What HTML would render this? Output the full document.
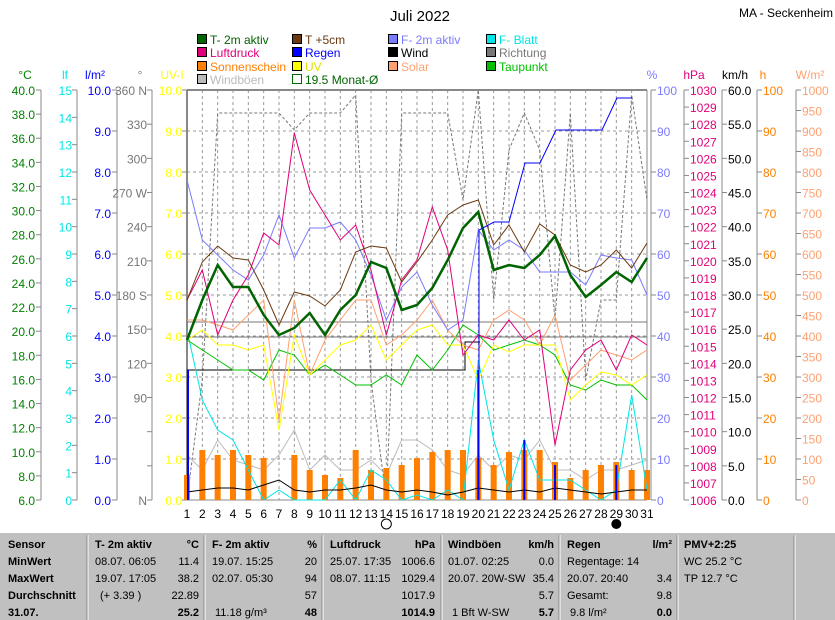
<!DOCTYPE html>
<html><head><meta charset="utf-8"><style>
html,body{margin:0;padding:0;background:#fff;width:835px;height:620px;overflow:hidden}
svg{display:block;font-family:"Liberation Sans",sans-serif;font-size:12px}
</style></head><body>
<svg id="s" width="835" height="620" xmlns="http://www.w3.org/2000/svg"></svg>
<script>
const S=document.getElementById('s');let h='';
const X=d=>187+(d-1)*15.333;
function t(x,y,s,c,a,extra){h+=`<text x="${x}" y="${y}" fill="${c||'#000'}" text-anchor="${a||'start'}" ${extra||''}>${s}</text>`;}
function l(x1,y1,x2,y2,c,w,da){h+=`<line x1="${x1}" y1="${y1}" x2="${x2}" y2="${y2}" stroke="${c}" stroke-width="${w||1}" ${da?`stroke-dasharray="${da}"`:''}/>`;}
function pl(ys,c,w,da){h+=`<polyline fill="none" stroke="${c}" stroke-width="${w||1}" ${da?`stroke-dasharray="${da}"`:''} points="${ys.map((y,i)=>X(i+1).toFixed(1)+','+y).join(' ')}"/>`;}
t(420,21,'Juli 2022','#000','middle','font-size="15"');
t(833,17,'MA - Seckenheim','#000','end');
const lg=[[197,44,'#006400','T- 2m aktiv'],[292,44,'#6b3a10','T +5cm'],[388,44,'#7b7bff','F- 2m aktiv'],[486,44,'#00e5e5','F- Blatt'],
[197,57,'#e0007a','Luftdruck'],[292,57,'#0000ff','Regen'],[388,57,'#000','Wind'],[486,57,'#777','Richtung'],
[197,71,'#ff8000','Sonnenschein'],[292,71,'#ffff00','UV'],[388,71,'#ffa070','Solar'],[486,71,'#00c000','Taupunkt'],
[197,84,'#bbb','Windböen']];
lg.forEach(a=>{h+=`<rect x="${a[0]+0.5}" y="${a[1]-9.5}" width="9" height="9" fill="${a[2]}" stroke="#000"/>`;t(a[0]+13,a[1],a[3],a[2]==='#ffff00'?'#e0e000':a[2]);});
h+=`<rect x="292.5" y="74.5" width="9" height="9" fill="none" stroke="#006400"/>`;t(305,84,'19.5 Monat-Ø','#006400');
t(25,79,'°C','#008000','middle');t(65,79,'lf','#00e5e5','middle');t(95,79,'l/m²','#0000ff','middle');t(140,79,'°','#777','middle');t(172,79,'UV-I','#ffff00','middle');
t(652,79,'%','#7b7bff','middle');t(694,79,'hPa','#e0007a','middle');t(735,79,'km/h','#000','middle');t(763,79,'h','#ff8000','middle');t(810,79,'W/m²','#ffa070','middle');
const T=90,B=500;
for(let d=1;d<=31;d++){l(X(d),T,X(d),B,'#999',1,'3,3');t(X(d),518,d,'#000','middle');}
for(let i=1;i<10;i++){l(187,T+i*41,647,T+i*41,'#999',1,'3,3');}
l(187,T,647,T,'#888',2);l(187,T,187,B,'#888',2);l(647,T,647,B,'#888',1);l(187,B,647,B,'#888',1);
function axis(xl,n,fmt,col,lx){l(xl,T,xl,B,'#888');for(let i=0;i<=n;i++){const y=T+i*410/n;l(xl-5,y,xl,y,'#888');const s=fmt(i);if(s!==null)t(lx,y+5,s,col,'end');}}
axis(41,17,i=>(40-2*i).toFixed(1),'#008000',35);
axis(77,15,i=>15-i,'#00e5e5',72);
axis(117,10,i=>(10-i).toFixed(1),'#0000ff',111);
const dl={360:'360 N',270:'270 W',180:'180 S',0:'N',60:null,30:null};
axis(152,12,i=>{const v=360-30*i;return dl[v]!==undefined?dl[v]:''+v},'#777',147);
axis(187,10,i=>(10-i).toFixed(1),'#ffff00',182);
function raxis(xl,n,fmt,col){l(xl,T,xl,B,'#888');for(let i=0;i<=n;i++){const y=T+i*410/n;l(xl,y,xl+5,y,'#888');t(xl+6,y+5,fmt(i),col);}}
raxis(651,10,i=>100-10*i,'#7b7bff');
raxis(684,24,i=>1030-i,'#e0007a');
raxis(722,12,i=>(60-5*i).toFixed(1),'#000');
raxis(757,10,i=>100-10*i,'#ff8000');
raxis(796,20,i=>1000-50*i,'#ffa070');
pl([500,380,113,113,113,113,113,130,113,113,113,95,380,500,113,113,113,113,200,90,300,150,113,150,320,113,380,300,300,95,200],'#777',1,'3,2');
pl([455,470,440,460,465,470,455,430,470,455,470,470,460,475,440,440,450,470,475,455,470,455,460,440,470,470,480,470,470,465,460],'#bbb');
const sun=[475,450,455,450,455,458,500,455,470,475,478,450,470,468,465,458,452,450,450,458,465,452,450,450,462,478,470,465,462,470,470];
sun.forEach((y,i)=>{h+=`<rect x="${X(i+1)-3}" y="${y}" width="6" height="${B-y}" fill="#ff8000"/>`;});
l(187,322,647,322,'#777');l(187,337,647,337,'#777');
h+=`<polyline fill="none" stroke="#000" points="187,370 465,370 465,342 480,342"/>`;
pl([330,400,430,440,470,500,490,500,500,500,480,500,470,480,500,495,500,490,500,360,440,490,440,480,480,480,490,500,490,395,490],'#00e5e5');
pl([340,350,360,370,370,380,350,355,375,365,375,385,385,375,385,355,370,350,325,335,350,345,340,345,355,385,390,380,385,385,400],'#00c000');
pl([320,320,325,330,315,300,420,300,375,340,320,300,300,345,335,320,300,330,345,350,320,310,320,345,315,380,365,350,355,360,350],'#ffa070');
pl([340,330,345,345,350,345,430,335,375,360,345,340,325,360,345,330,325,345,345,380,345,352,345,345,345,400,385,372,375,385,375],'#ffff00');
pl([492,490,488,488,490,485,480,490,492,490,490,488,485,490,492,490,492,495,492,488,490,492,490,492,488,490,492,494,492,490,490],'#000');
pl([180,240,255,270,280,255,215,258,228,228,222,240,275,320,287,272,305,330,320,230,250,240,250,272,272,272,285,255,258,260,295],'#7b7bff');
pl([300,270,335,300,275,233,245,133,190,215,240,225,270,335,280,260,207,250,355,335,340,320,340,330,445,370,350,340,370,335,345],'#e0007a');
pl([300,262,246,258,260,290,325,292,296,306,290,252,246,248,282,262,240,215,205,200,245,225,252,224,235,265,272,265,250,268,243],'#6b3a10');
pl([340,300,265,287,287,315,335,328,313,335,310,295,262,268,310,305,288,260,228,212,270,265,268,255,236,275,297,285,272,282,258],'#006400',2.5);
l(188,370,188,500,'#0000ff',2);
[[20,370],[23,440],[25,465],[29,465]].forEach(a=>l(X(a[0]),a[1],X(a[0]),500,'#0000ff',2));
h+=`<polyline fill="none" stroke="#0000ff" stroke-width="1" points="479,500 479,230 494,222 509,222 525,163 540,163 556,130 602,130 617,98 632,98"/>`;
h+=`<circle cx="${X(14)}" cy="524" r="5" fill="#fff" stroke="#000"/><circle cx="${X(29)}" cy="524" r="5" fill="#000"/>`;
h+=`<rect x="0" y="533" width="835" height="87" fill="#c0c0c0"/>`;
[88,205,323,442,560,678,795].forEach(x=>{l(x,535,x,620,'#fff',1);l(x-1,535,x-1,620,'#888',1);});
h+='<g font-size="11">';
const R=[548,565,582,599,616];
const B_=(x,y,s,a)=>t(x,y,s,'#000',a,'font-weight="bold"');
['Sensor','MinWert','MaxWert','Durchschnitt','31.07.'].forEach((s,i)=>B_(8,R[i],s));
B_(95,R[0],'T- 2m aktiv');B_(199,R[0],'°C','end');
t(95,R[1],'08.07.  06:05');t(199,R[1],'11.4','#000','end');
t(95,R[2],'19.07.  17:05');t(199,R[2],'38.2','#000','end');
t(100,R[3],'(+ 3.39 )');t(199,R[3],'22.89','#000','end');B_(199,R[4],'25.2','end');
B_(212,R[0],'F- 2m aktiv');B_(317,R[0],'%','end');
t(212,R[1],'19.07.  15:25');t(317,R[1],'20','#000','end');
t(212,R[2],'02.07.  05:30');t(317,R[2],'94','#000','end');
t(317,R[3],'57','#000','end');t(215,R[4],'11.18 g/m³');B_(317,R[4],'48','end');
B_(330,R[0],'Luftdruck');B_(435,R[0],'hPa','end');
t(330,R[1],'25.07.  17:35');t(435,R[1],'1006.6','#000','end');
t(330,R[2],'08.07.  11:15');t(435,R[2],'1029.4','#000','end');
t(435,R[3],'1017.9','#000','end');B_(435,R[4],'1014.9','end');
B_(448,R[0],'Windböen');B_(554,R[0],'km/h','end');
t(448,R[1],'01.07.  02:25');t(554,R[1],'0.0','#000','end');
t(448,R[2],'20.07.  20W-SW');t(554,R[2],'35.4','#000','end');
t(554,R[3],'5.7','#000','end');t(452,R[4],'1 Bft W-SW');B_(554,R[4],'5.7','end');
B_(567,R[0],'Regen');B_(672,R[0],'l/m²','end');
t(567,R[1],'Regentage: 14');
t(567,R[2],'20.07.  20:40');t(672,R[2],'3.4','#000','end');
t(567,R[3],'Gesamt:');t(672,R[3],'9.8','#000','end');t(570,R[4],'9.8 l/m²');B_(672,R[4],'0.0','end');
B_(684,R[0],'PMV+2:25');t(684,R[1],'WC 25.2 °C');t(684,R[2],'TP 12.7 °C');
h+='</g>';
S.innerHTML=h;
</script>
</body></html>
